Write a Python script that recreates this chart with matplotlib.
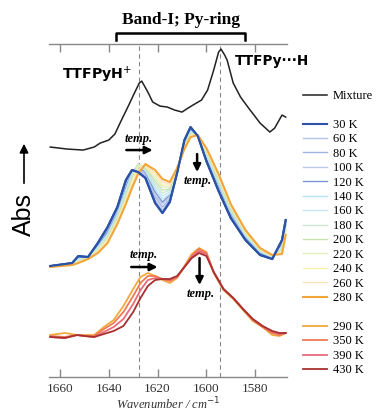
import matplotlib
matplotlib.use('Agg')
import matplotlib.pyplot as plt
from matplotlib.lines import Line2D

# --- data (arbitrary absorbance, height above each group's baseline) ---
wn_mix = [1664, 1657, 1650.5, 1646, 1643.5, 1640, 1637.5, 1635, 1632, 1629.5, 1627.5, 1626.5, 1624,
          1622, 1619, 1616, 1613, 1610, 1607.5, 1605.5, 1602, 1599.5, 1597, 1595, 1594, 1592.5, 1591.5,
          1589, 1586, 1583, 1578, 1574, 1572, 1569, 1567.5]
mixture = [0.00, -0.02, -0.03, 0.00, 0.04, 0.07, 0.13, 0.26, 0.41, 0.54, 0.64, 0.66, 0.55,
           0.45, 0.41, 0.40, 0.37, 0.35, 0.39, 0.42, 0.47, 0.57, 0.77, 0.95, 0.98, 0.92, 0.87,
           0.64, 0.50, 0.40, 0.24, 0.15, 0.19, 0.32, 0.30]

wn_low = [1664, 1655, 1652.5, 1648.5, 1644.5, 1640.5, 1636.5, 1633, 1630.5, 1628, 1625, 1621, 1618,
          1615, 1612, 1609, 1606.5, 1603.5, 1600, 1595, 1590, 1584, 1578, 1573, 1569, 1567.5]
t30 = [0.00, 0.03, 0.10, 0.09, 0.23, 0.39, 0.59, 0.86, 0.96, 0.94, 0.88, 0.63, 0.53, 0.64, 0.93, 1.26, 1.39, 1.30, 1.05, 0.75, 0.48, 0.26, 0.11, 0.07, 0.26, 0.46]
t60 = [0.00, 0.03, 0.09, 0.09, 0.22, 0.38, 0.58, 0.84, 0.96, 0.96, 0.90, 0.66, 0.56, 0.66, 0.93, 1.25, 1.38, 1.30, 1.06, 0.76, 0.49, 0.27, 0.12, 0.07, 0.25, 0.45]
t80 = [0.00, 0.03, 0.09, 0.09, 0.21, 0.36, 0.56, 0.82, 0.95, 0.98, 0.92, 0.69, 0.59, 0.67, 0.94, 1.24, 1.37, 1.30, 1.07, 0.78, 0.50, 0.28, 0.12, 0.08, 0.24, 0.43]
t100 = [0.00, 0.03, 0.08, 0.09, 0.21, 0.35, 0.55, 0.80, 0.95, 0.99, 0.93, 0.71, 0.62, 0.69, 0.94, 1.24, 1.37, 1.30, 1.08, 0.79, 0.52, 0.28, 0.13, 0.08, 0.22, 0.42]
t120 = [0.00, 0.02, 0.08, 0.08, 0.20, 0.34, 0.53, 0.78, 0.94, 1.00, 0.94, 0.74, 0.64, 0.71, 0.95, 1.23, 1.36, 1.30, 1.09, 0.81, 0.53, 0.29, 0.13, 0.08, 0.21, 0.41]
t140 = [0.00, 0.02, 0.07, 0.08, 0.19, 0.32, 0.52, 0.76, 0.93, 1.01, 0.95, 0.77, 0.67, 0.72, 0.95, 1.22, 1.35, 1.30, 1.10, 0.82, 0.54, 0.30, 0.14, 0.09, 0.20, 0.40]
t160 = [0.00, 0.02, 0.07, 0.08, 0.18, 0.31, 0.50, 0.74, 0.92, 1.02, 0.96, 0.80, 0.70, 0.74, 0.95, 1.21, 1.34, 1.30, 1.12, 0.84, 0.55, 0.31, 0.15, 0.09, 0.19, 0.38]
t180 = [0.00, 0.02, 0.06, 0.08, 0.17, 0.30, 0.49, 0.72, 0.90, 1.02, 0.97, 0.82, 0.73, 0.76, 0.96, 1.20, 1.33, 1.31, 1.13, 0.85, 0.56, 0.32, 0.15, 0.09, 0.18, 0.37]
t200 = [0.00, 0.02, 0.05, 0.08, 0.16, 0.28, 0.48, 0.70, 0.88, 1.02, 0.98, 0.85, 0.76, 0.77, 0.96, 1.20, 1.32, 1.31, 1.14, 0.86, 0.57, 0.33, 0.16, 0.10, 0.17, 0.36]
t220 = [0.00, 0.02, 0.05, 0.08, 0.16, 0.27, 0.46, 0.68, 0.86, 1.01, 0.99, 0.88, 0.79, 0.79, 0.97, 1.19, 1.31, 1.31, 1.15, 0.88, 0.59, 0.33, 0.16, 0.10, 0.15, 0.35]
t240 = [0.00, 0.01, 0.04, 0.07, 0.15, 0.26, 0.45, 0.66, 0.84, 0.99, 1.00, 0.91, 0.81, 0.81, 0.97, 1.18, 1.31, 1.31, 1.16, 0.89, 0.60, 0.34, 0.17, 0.10, 0.14, 0.33]
t260 = [0.00, 0.01, 0.04, 0.07, 0.14, 0.24, 0.43, 0.64, 0.81, 0.96, 1.01, 0.93, 0.84, 0.82, 0.98, 1.17, 1.30, 1.31, 1.17, 0.91, 0.61, 0.35, 0.17, 0.11, 0.13, 0.32]
t280 = [-0.01, 0.01, 0.03, 0.07, 0.13, 0.23, 0.42, 0.62, 0.78, 0.92, 1.02, 0.96, 0.87, 0.84, 0.98, 1.17, 1.29, 1.31, 1.18, 0.92, 0.62, 0.36, 0.18, 0.11, 0.12, 0.31]

wn_high = [1664, 1658, 1653, 1650, 1646, 1642, 1638, 1634, 1630, 1627, 1624, 1621, 1618, 1615,
           1612, 1609, 1606, 1603, 1600, 1597, 1593, 1589, 1585, 1581, 1577, 1573, 1570, 1567.5]
t290 = [0.01, 0.03, 0.01, 0.01, 0.01, 0.09, 0.16, 0.30, 0.47, 0.59, 0.63, 0.60, 0.56, 0.53, 0.58, 0.70, 0.82, 0.88, 0.84, 0.63, 0.46, 0.37, 0.26, 0.15, 0.09, 0.01, 0.00, 0.03]
t350 = [0.00, -0.01, 0.01, 0.00, 0.00, 0.07, 0.13, 0.24, 0.40, 0.53, 0.60, 0.60, 0.57, 0.55, 0.59, 0.69, 0.80, 0.87, 0.83, 0.64, 0.47, 0.38, 0.27, 0.16, 0.09, 0.03, 0.01, 0.03]
t390 = [-0.01, -0.02, 0.01, 0.00, -0.01, 0.04, 0.09, 0.17, 0.32, 0.46, 0.56, 0.58, 0.57, 0.56, 0.59, 0.69, 0.79, 0.85, 0.82, 0.64, 0.47, 0.38, 0.27, 0.17, 0.10, 0.04, 0.02, 0.03]
t430 = [-0.01, -0.02, 0.01, 0.00, -0.01, 0.02, 0.05, 0.10, 0.24, 0.38, 0.50, 0.56, 0.57, 0.57, 0.60, 0.69, 0.78, 0.83, 0.80, 0.64, 0.47, 0.38, 0.27, 0.17, 0.10, 0.05, 0.03, 0.03]

low_labels = ['30 K', '60 K', '80 K', '100 K', '120 K', '140 K', '160 K', '180 K', '200 K',
              '220 K', '240 K', '260 K', '280 K']
high_labels = ['290 K', '350 K', '390 K', '430 K']
xticks = [1660, 1640, 1620, 1600, 1580]
peak_lines = [1627.5, 1594.5]

# vertical offsets of the three stacked groups
off_mix, off_low, off_high = 2.53, 1.34, 0.64

low_data = [t30, t60, t80, t100, t120, t140, t160, t180, t200, t220, t240, t260, t280]
high_data = [t290, t350, t390, t430]
low_colors = ['#2a52a6', '#b6c4e6', '#9fb4e0', '#bcc8ec', '#7b96d4', '#b9e2f2', '#c6e8ee',
              '#cce9d4', '#c8e2b0', '#dfedbf', '#f9f1b0', '#fbe2bb', '#f2a63a']
high_colors = ['#f2a93b', '#f07a52', '#ec6a78', '#a8302e']

serif = 'Liberation Serif'

fig = plt.figure(figsize=(3.77, 4.12), dpi=100)
ax = fig.add_axes([0.130, 0.085, 0.631, 0.808])

handles = []
h, = ax.plot(wn_mix, [v + off_mix for v in mixture], color='#222222', lw=1.1, label='Mixture')
handles.append(h)
handles.append(Line2D([], [], color='none', label=' '))

# intermediates first, then the two extremes on top
low_handles = []
for i in range(len(low_data)):
    lw = 1.5 if i in (0, len(low_data) - 1) else 1.0
    line, = ax.plot(wn_low, [v + off_low for v in low_data[i]], color=low_colors[i], lw=lw,
                    label=low_labels[i], zorder=3 if i in (0, len(low_data) - 1) else 2)
    low_handles.append(line)
ax.plot(wn_low, [v + off_low for v in t30], color=low_colors[0], lw=1.5, zorder=4)
handles += low_handles
handles.append(Line2D([], [], color='none', label=' '))
for i in range(len(high_data)):
    line, = ax.plot(wn_high, [v + off_high for v in high_data[i]], color=high_colors[i],
                    lw=1.3, label=high_labels[i])
    handles.append(line)

for x in peak_lines:
    ax.axvline(x, color='#888888', lw=0.8, ls=(0, (4, 3)), zorder=1)

ax.set_xlim(1664.5, 1567)
ax.set_ylim(0.23, 3.56)
ax.set_xticks(xticks)
ax.set_xticklabels([str(t) for t in xticks], family=serif, fontsize=9.5, color='#333333')
ax.set_yticks([])
for s in ['left', 'right']:
    ax.spines[s].set_visible(False)
for s in ['top', 'bottom']:
    ax.spines[s].set_color('#888888')
    ax.spines[s].set_linewidth(1.0)
ax.tick_params(axis='x', direction='in', length=6, width=1, color='#888888', top=True, pad=4)
ax.set_xlabel('Wavenumber / cm$^{-1}$', family=serif, style='italic', fontsize=9,
              color='#333333', labelpad=1)

# bracket and title above the plot
tr = ax.get_xaxis_transform()
ax.plot([1637.0, 1637.0, 1584.2, 1584.2], [1.012, 1.033, 1.033, 1.012], transform=tr,
        color='k', lw=1.8, clip_on=False)
ax.text(1610.5, 1.072, 'Band-I; Py-ring', transform=tr, ha='center', va='center',
        family=serif, weight='bold', fontsize=12.5)

ax.text(1644.6, 3.25, 'TTFPyH$^{+}$', ha='center', va='center', weight='bold', fontsize=10.3)
ax.text(1573.3, 3.39, 'TTFPy\u00b7\u00b7\u00b7H', ha='center', va='center', weight='bold', fontsize=9.8)

# temperature arrows
arrow = dict(arrowstyle='-|>', lw=1.8, color='k', mutation_scale=11, shrinkA=0, shrinkB=0)
tfont = dict(family=serif, weight='bold', style='italic', fontsize=9, ha='center', va='center')
ax.annotate('', xy=(1622.0, 2.50), xytext=(1632.8, 2.50), arrowprops=arrow)
ax.text(1627.6, 2.61, 'temp.', **tfont)
ax.annotate('', xy=(1603.8, 2.28), xytext=(1603.8, 2.46), arrowprops=arrow)
ax.text(1603.4, 2.19, 'temp.', **tfont)
ax.annotate('', xy=(1620.0, 1.33), xytext=(1630.8, 1.33), arrowprops=arrow)
ax.text(1625.6, 1.45, 'temp.', **tfont)
ax.annotate('', xy=(1602.8, 1.15), xytext=(1602.8, 1.42), arrowprops=arrow)
ax.text(1602.2, 1.06, 'temp.', **tfont)

# Abs axis arrow and label
fig.text(24 / 377, 1 - 214 / 412, 'Abs', rotation=90, ha='center', va='center',
         family='Liberation Sans', fontsize=18)
fig.add_artist(matplotlib.patches.FancyArrowPatch((24 / 377, 1 - 186 / 412), (24 / 377, 1 - 141 / 412),
               transform=fig.transFigure, arrowstyle='-|>', mutation_scale=13, lw=1.2, color='k'))

fig.legend(handles=handles, labels=[hh.get_label() for hh in handles], loc='upper left',
           bbox_to_anchor=(303 / 377, 1 - 90 / 412), frameon=False,
           prop={'family': serif, 'size': 9}, handlelength=1.9, handletextpad=0.5,
           labelspacing=0.195, borderpad=0, borderaxespad=0)

fig.savefig('out.png', dpi=100)
